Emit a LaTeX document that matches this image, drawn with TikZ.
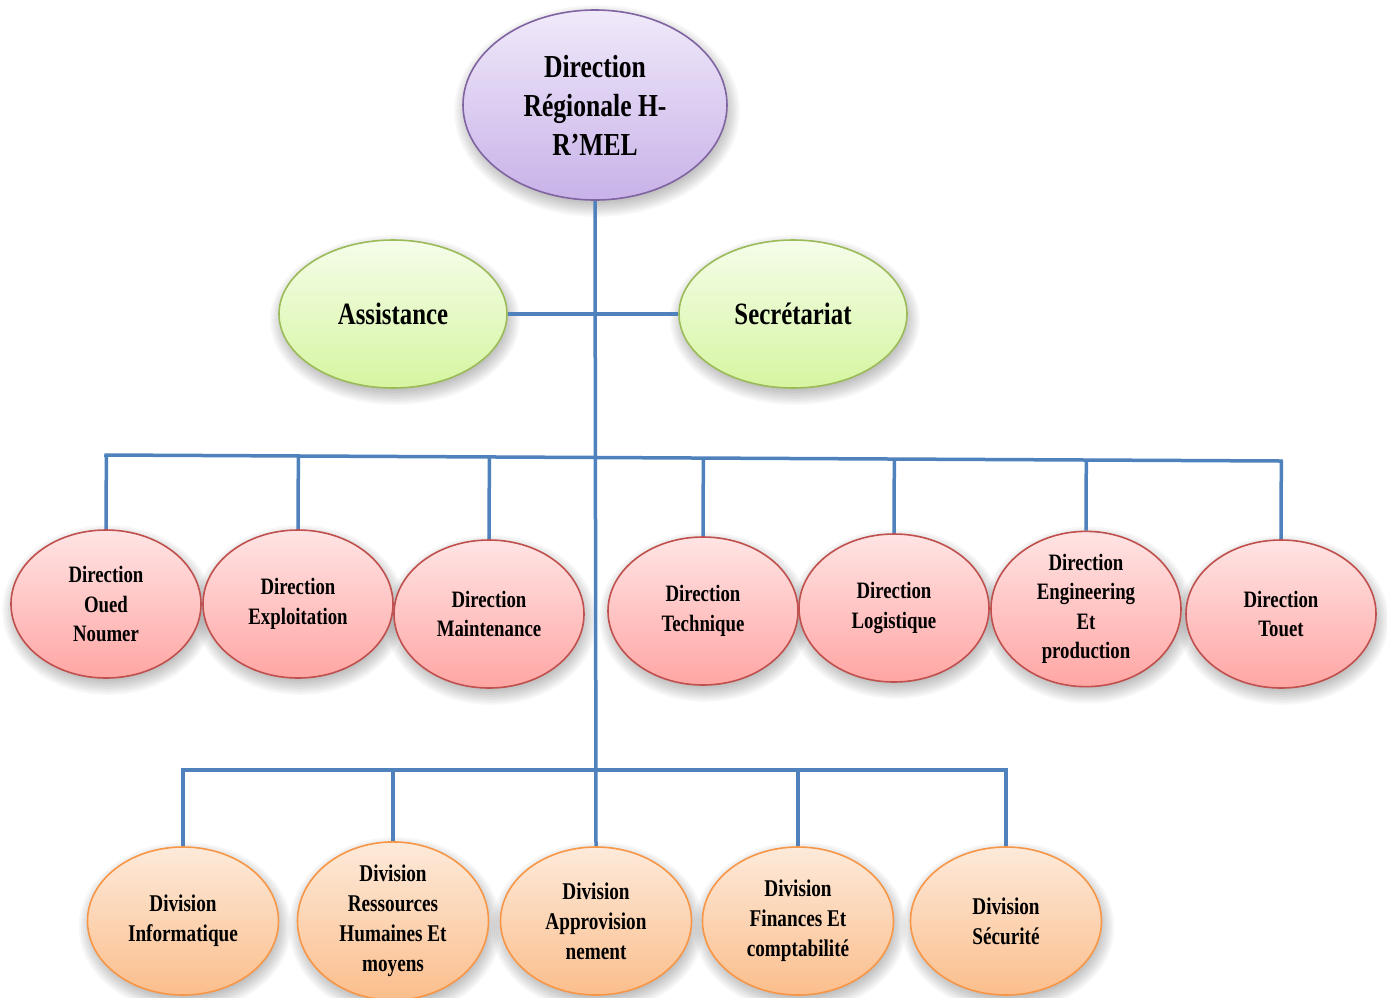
\documentclass[tikz,border=0pt]{standalone}
\usepackage{fontspec}
\newfontfamily\nf{Liberation Serif}[FakeStretch=0.8]
\usetikzlibrary{shapes.geometric,backgrounds,calc}
\definecolor{conn}{HTML}{4F81BD}
\definecolor{purpB}{HTML}{8064A2}
\tikzset{
  bubble/.style={ellipse, inner sep=0pt, align=center, line width=1.6pt,
    shading=axis, shading angle=0, font=\nf\bfseries},
  topb/.style={bubble, draw=purpB, top color={rgb,255:red,240;green,233;blue,250}, bottom color={rgb,255:red,200;green,178;blue,232},
    minimum width=264pt, minimum height=190pt, font=\nf\bfseries\fontsize{32}{39}\selectfont},
  greenb/.style={bubble, draw={rgb,255:red,155;green,187;blue,89}, top color={rgb,255:red,245;green,253;blue,234}, bottom color={rgb,255:red,214;green,245;blue,160},
    minimum width=228pt, minimum height=148pt, font=\nf\bfseries\fontsize{31}{38}\selectfont},
  pinkb/.style={bubble, draw={rgb,255:red,192;green,80;blue,77}, top color={rgb,255:red,255;green,228;blue,228}, bottom color={rgb,255:red,255;green,166;blue,164},
    minimum width=190pt, minimum height=148pt, font=\nf\bfseries\fontsize{23.5}{29.5}\selectfont},
  orangeb/.style={bubble, draw={rgb,255:red,247;green,150;blue,70}, top color={rgb,255:red,253;green,234;blue,218}, bottom color={rgb,255:red,251;green,190;blue,140},
    minimum width=191pt, minimum height=148pt, font=\nf\bfseries\fontsize{24}{30}\selectfont},
  wire/.style={draw=conn, line width=3.5pt},
  softshadow/.style={fill=black, opacity=0.03}
}
\begin{document}
\begin{tikzpicture}[x=1pt,y=-1pt]
\useasboundingbox (0,0) rectangle (1387,997);
\begin{scope}[on background layer]
\fill[white] (0,0) rectangle (1387,997);
\end{scope}
% top
\node[topb] (top) at (595,105) {Direction\\Régionale H-\\R’MEL};
\node[greenb] (assist) at (393,314) {Assistance};
\node[greenb] (secr) at (793,314) {Secrétariat};
% row 3
\node[pinkb] (d1) at (106,604) {Direction\\Oued\\Noumer};
\node[pinkb] (d2) at (298,604) {Direction\\Exploitation};
\node[pinkb] (d3) at (489,614) {Direction\\Maintenance};
\node[pinkb] (d4) at (703,611) {Direction\\Technique};
\node[pinkb] (d5) at (894,608) {Direction\\Logistique};
\node[pinkb] (d6) at (1086,609) {Direction\\Engineering\\Et\\production};
\node[pinkb] (d7) at (1281,614) {Direction\\Touet};
% row 4
\node[orangeb] (v1) at (183,921) {Division\\Informatique};
\node[orangeb] (v2) at (393,921) {Division\\Ressources\\Humaines Et\\moyens};
\node[orangeb] (v3) at (596,921) {Division\\Approvision\\nement};
\node[orangeb] (v4) at (798,921) {Division\\Finances Et\\comptabilité};
\node[orangeb] (v5) at (1006,921) {Division\\Sécurité};
\coordinate (busL) at (106,455);
\coordinate (busR) at (1281,461);
\coordinate (bus2L) at (183,770);
\coordinate (bus2R) at (1006,770);
\begin{scope}[on background layer]
\foreach \nm in {top,assist,secr,d1,d2,d3,d4,d5,d6,d7,v1,v2,v3,v4,v5}{
  \foreach \k in {0,2,...,16}{
    \path[softshadow] let \p1=(\nm.center), \p2=(\nm.east), \p3=(\nm.north) in
      ($(\nm.center)+(2,6)$) ellipse [x radius={\x2-\x1+\k pt-6pt}, y radius={abs(\y3-\y1)+\k pt-6pt}];
  }
}
\draw[wire] (top.south) -- (v3.north);
\draw[wire] (assist.east) -- (secr.west);
\draw[wire, line cap=rect] (busL) -- (busR);
\foreach \nm in {d1,d2,d3,d4,d5,d6,d7}
  \draw[wire] (\nm.north) -- ($(busL)!(\nm.north)!(busR)$);
\draw[wire, line cap=rect] (bus2L) -- (bus2R);
\foreach \nm in {v1,v2,v4,v5}
  \draw[wire] (\nm.north) -- ($(bus2L)!(\nm.north)!(bus2R)$);
\end{scope}
\end{tikzpicture}
\end{document}
